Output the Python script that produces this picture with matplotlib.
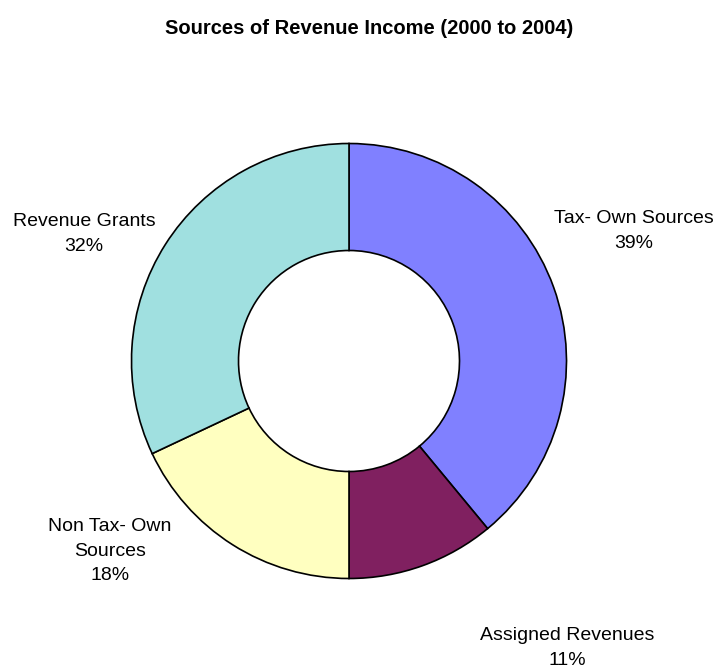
import matplotlib.pyplot as plt

plt.rcParams['font.family'] = ['Liberation Sans', 'DejaVu Sans']

# revenue shares, clockwise from 12 o'clock
sources = ['Tax- Own Sources', 'Assigned Revenues', 'Non Tax- Own\nSources', 'Revenue Grants']
shares = [39, 11, 18, 32]
colors = ['#8080FF', '#802060', '#FFFFC0', '#A0E0E0']

W, H = 723, 670
fig = plt.figure(figsize=(W / 100, H / 100), dpi=100)
ax = fig.add_axes([0, 0, 1, 1])

# work in pixel units, y measured from the top
ax.pie(shares, colors=colors, startangle=90, counterclock=False,
       center=(349, H - 361), radius=217.5, frame=True,
       wedgeprops=dict(width=107, edgecolor='black', linewidth=1.2))
ax.set_xlim(0, W)
ax.set_ylim(0, H)
ax.set_aspect('equal')
ax.axis('off')

# label spots (pixels from top-left), Excel-style placement outside the ring
label_xy = [(634, 231), (567, 648), (110, 551), (84, 234)]
for name, pct, (x, y) in zip(sources, shares, label_xy):
    ax.text(x, H - y, f'{name}\n{pct}%', ha='center', va='center',
            fontsize=14, linespacing=1.6)

ax.text(369, H - 28, 'Sources of Revenue Income (2000 to 2004)', ha='center', va='center',
        fontsize=14.5, fontweight='bold')

fig.savefig('out.png', dpi=100)
